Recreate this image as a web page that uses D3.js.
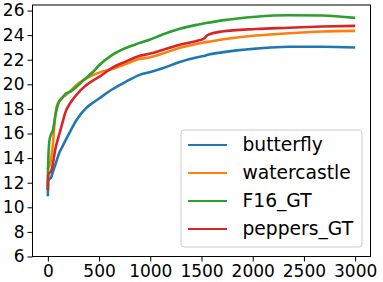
<!DOCTYPE html>
<html>
<meta charset="utf-8">
<style>
  body { margin: 0; background: #fff; }
  text { font-family: "DejaVu Sans", sans-serif; fill: #000; }
  .tick text { font-size: 17px; }
  .legend text { font-size: 18.7px; }
</style>
<script src="https://d3js.org/d3.v7.min.js"></script>
<body>
<script>
  var svgWidth = 383, svgHeight = 282;

  var iters = [0, 2, 15, 30, 50, 70, 90, 110, 140, 170, 220, 280, 370, 440, 500, 630, 760, 890, 1000, 1120, 1280, 1460, 1520, 1560, 1700, 2030, 2350, 2680, 3000];
  var butterfly = [10.9, 12.1, 12.3, 12.4, 12.9, 13.4, 13.9, 14.4, 14.9, 15.4, 16.2, 17.1, 18.05, 18.5, 18.85, 19.6, 20.2, 20.75, 21.0, 21.3, 21.8, 22.2, 22.3, 22.4, 22.6, 22.9, 23.05, 23.05, 23.0];
  var watercastle = [13.1, 13.2, 13.4, 13.9, 15.2, 17.3, 18.3, 18.6, 18.9, 19.1, 19.45, 19.95, 20.45, 20.75, 20.95, 21.25, 21.65, 22.05, 22.2, 22.5, 22.95, 23.3, 23.4, 23.45, 23.65, 23.97, 24.15, 24.3, 24.35];
  var f16 = [11.4, 13.2, 15.4, 15.9, 16.3, 17.3, 18.1, 18.6, 18.9, 19.2, 19.4, 19.8, 20.5, 21.0, 21.55, 22.4, 22.95, 23.35, 23.65, 24.05, 24.5, 24.85, 24.95, 25.0, 25.2, 25.5, 25.62, 25.6, 25.4];
  var peppers = [11.4, 12.6, 12.8, 12.9, 13.6, 14.6, 15.3, 15.9, 16.8, 17.7, 18.5, 19.15, 19.9, 20.3, 20.6, 21.35, 21.85, 22.3, 22.5, 22.8, 23.2, 23.55, 23.7, 24.0, 24.3, 24.5, 24.6, 24.7, 24.75];

  var names = ["butterfly", "watercastle", "F16_GT", "peppers_GT"];
  var colors = ["#1f77b4", "#ff7f0e", "#2ca02c", "#d62728"];
  var xTicks = [0, 500, 1000, 1500, 2000, 2500, 3000];
  var yTicks = [6, 8, 10, 12, 14, 16, 18, 20, 22, 24, 26];

  var series = [butterfly, watercastle, f16, peppers];

  var plotLeft = 32.5, plotRight = 370.5, plotTop = 5, plotBottom = 256.5;

  var svg = d3.select("body")
    .append("svg")
    .attr("width", svgWidth)
    .attr("height", svgHeight);

  var x = d3.scaleLinear().domain([-150, 3150]).range([plotLeft, plotRight]);
  var y = d3.scaleLinear().domain([6, 26.45]).range([plotBottom, plotTop]);

  var line = d3.line()
    .x(function(d, i){ return x(iters[i]); })
    .y(function(d){ return y(d); })
    .curve(d3.curveMonotoneX);

  svg.selectAll(".series")
    .data(series)
    .enter()
    .append("path")
    .attr("class", "series")
    .attr("d", line)
    .attr("fill", "none")
    .attr("stroke", function(d, i){ return colors[i]; })
    .attr("stroke-width", 2.6)
    .attr("stroke-linejoin", "round");

  var xAxis = svg.append("g")
    .attr("transform", "translate(0," + plotBottom + ")")
    .call(d3.axisBottom(x).tickValues(xTicks).tickSize(5).tickPadding(3).tickFormat(d3.format("d")));

  var yAxis = svg.append("g")
    .attr("transform", "translate(" + plotLeft + ",0)")
    .call(d3.axisLeft(y).tickValues(yTicks).tickSize(5).tickPadding(3).tickFormat(d3.format("d")));

  [xAxis, yAxis].forEach(function(a){
    a.select(".domain").remove();
    a.selectAll("line").attr("stroke", "#000").attr("stroke-width", 1);
    a.attr("font-family", null).attr("font-size", null);
  });

  // frame
  svg.append("rect")
    .attr("x", plotLeft).attr("y", plotTop)
    .attr("width", plotRight - plotLeft).attr("height", plotBottom - plotTop)
    .attr("fill", "none")
    .attr("stroke", "#000")
    .attr("stroke-width", 1);

  // legend
  var legend = svg.append("g").attr("class", "legend");
  legend.append("rect")
    .attr("x", 181).attr("y", 130)
    .attr("width", 181).attr("height", 117)
    .attr("rx", 3)
    .attr("fill", "#fff").attr("fill-opacity", 0.8)
    .attr("stroke", "#ccc");

  var item = legend.selectAll(".item")
    .data(names)
    .enter()
    .append("g")
    .attr("class", "item")
    .attr("transform", function(d, i){ return "translate(0," + (145 + i * 28) + ")"; });

  item.append("line")
    .attr("x1", 188).attr("x2", 227)
    .attr("stroke", function(d, i){ return colors[i]; })
    .attr("stroke-width", 2);

  item.append("text")
    .attr("x", 242.5).attr("y", 6)
    .text(function(d){ return d; });
</script>
</body>
</html>
